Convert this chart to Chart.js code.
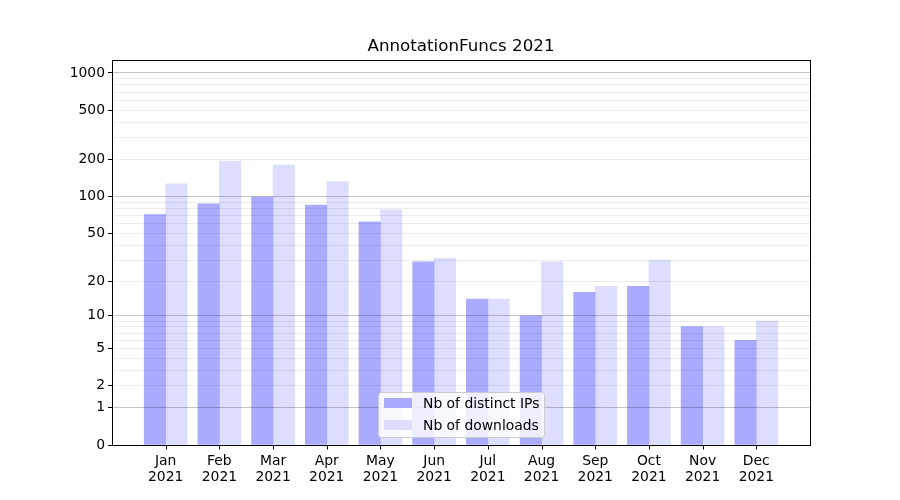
<!DOCTYPE html>
<html>
<head>
<meta charset="utf-8">
<script src="https://cdn.jsdelivr.net/npm/chart.js@4"></script>
<style>
  html, body { margin: 0; padding: 0; background: #fff; }
  #wrap { width: 900px; height: 500px; }
</style>
</head>
<body>
<div id="wrap"><canvas id="chart" width="900" height="500"></canvas></div>
<script>
// data
const months = ['Jan', 'Feb', 'Mar', 'Apr', 'May', 'Jun', 'Jul', 'Aug', 'Sep', 'Oct', 'Nov', 'Dec'];
const year = '2021';
const distinctIPs = [71, 87, 99, 85, 62, 29, 14, 10, 16, 18, 8, 6];
const downloads = [127, 194, 180, 132, 78, 31, 14, 29, 18, 30, 8, 9];
const yTickLabels = [0, 1, 2, 5, 10, 20, 50, 100, 200, 500, 1000];
const yMajorGrid = [1, 10, 100, 1000];
const yMinorGrid = [2, 3, 4, 5, 6, 7, 8, 9, 20, 30, 40, 50, 60, 70, 80, 90, 200, 300, 400, 500, 600, 700, 800, 900];

Chart.defaults.font.family = "'DejaVu Sans', sans-serif";
Chart.defaults.color = '#000';

// symlog-like axis: value -> log10(1 + v)
const tf = v => Math.log10(1 + v);

// one empty slot on each side, like the reference x limits
const labels = [''].concat(months.map(m => [m, year]), ['']);
const pad = arr => [null].concat(arr.map(tf), [null]);

const allY = Array.from(new Set(yTickLabels.concat(yMajorGrid, yMinorGrid))).sort((a, b) => a - b);

const framePlugin = {
  id: 'frame',
  afterDraw(chart) {
    const ctx = chart.ctx;
    const a = chart.chartArea;
    const xs = chart.scales.x;
    ctx.save();
    // x tick marks, one per month
    ctx.strokeStyle = '#000';
    ctx.lineWidth = 1;
    xs.ticks.forEach((t, i) => {
      const px = Math.round(xs.getPixelForTick(i)) + 0.5;
      ctx.beginPath();
      ctx.moveTo(px, a.bottom);
      ctx.lineTo(px, a.bottom + 4.5);
      ctx.stroke();
    });
    // legend
    const lx = 378.5, ly = 392.5, lw = 166, lh = 45;
    ctx.beginPath();
    ctx.roundRect(lx, ly, lw, lh, 3);
    ctx.fillStyle = 'rgba(255,255,255,0.8)';
    ctx.fill();
    ctx.strokeStyle = '#cccccc';
    ctx.stroke();
    ctx.font = "13.9px 'DejaVu Sans'";
    ctx.textBaseline = 'middle';
    chart.data.datasets.forEach((ds, i) => {
      const cy = 403 + i * 22;
      ctx.fillStyle = ds.backgroundColor;
      ctx.fillRect(384, cy - 5, 28, 10);
      ctx.fillStyle = '#000';
      ctx.fillText(ds.label, 423, cy + 1);
    });
    // axes frame
    ctx.strokeStyle = '#000';
    ctx.strokeRect(Math.round(a.left) + 0.5, Math.round(a.top) + 0.5,
      Math.round(a.right - a.left), Math.round(a.bottom - a.top));
    // title
    ctx.font = "16.7px 'DejaVu Sans'";
    ctx.textAlign = 'center';
    ctx.textBaseline = 'middle';
    ctx.fillStyle = '#000';
    ctx.fillText('AnnotationFuncs 2021', (a.left + a.right) / 2, 47);
    ctx.restore();
  }
};

new Chart(document.getElementById('chart').getContext('2d'), {
  type: 'bar',
  data: {
    labels: labels,
    datasets: [{
      label: 'Nb of distinct IPs',
      data: pad(distinctIPs),
      backgroundColor: '#aaaaff',
      borderWidth: 0,
      barThickness: 21.5
    }, {
      label: 'Nb of downloads',
      data: pad(downloads),
      backgroundColor: '#ddddff',
      borderWidth: 0,
      barThickness: 21.5
    }]
  },
  options: {
    responsive: false,
    animation: false,
    events: [],
    layout: { padding: { top: 60, right: 90, left: 0, bottom: 0 } },
    plugins: {
      legend: { display: false },
      title: { display: false },
      tooltip: { enabled: false }
    },
    scales: {
      x: {
        offset: false,
        afterFit: s => { s.height = 55; },
        // drop the two blank edge slots from the ticks
        afterBuildTicks: s => { s.ticks = s.ticks.slice(1, -1); },
        border: { display: false },
        grid: { display: false },
        ticks: {
          autoSkip: false,
          maxRotation: 0,
          padding: 0,
          font: { size: 13.9, lineHeight: 1.15 },
          color: '#000'
        }
      },
      y: {
        min: 0,
        max: 3.105,
        z: 1,
        afterFit: s => { s.width = 112; },
        afterBuildTicks: s => {
          s.ticks = allY.map(v => ({ value: tf(v), raw: v }));
        },
        border: { display: false },
        grid: {
          z: 1,
          drawTicks: true,
          tickLength: 4,
          tickWidth: 1,
          color: c => {
            const v = allY[c.index];
            if (yMajorGrid.includes(v)) return 'rgba(0,0,0,0.22)';
            if (yMinorGrid.includes(v)) return 'rgba(0,0,0,0.07)';
            return 'rgba(0,0,0,0)';
          },
          tickColor: c => yTickLabels.includes(allY[c.index]) ? '#000' : 'rgba(0,0,0,0)'
        },
        ticks: {
          autoSkip: false,
          padding: 3,
          font: { size: 13.9 },
          color: '#000',
          callback: (val, i) => yTickLabels.includes(allY[i]) ? String(allY[i]) : ''
        }
      }
    }
  },
  plugins: [framePlugin]
});
</script>
</body>
</html>
